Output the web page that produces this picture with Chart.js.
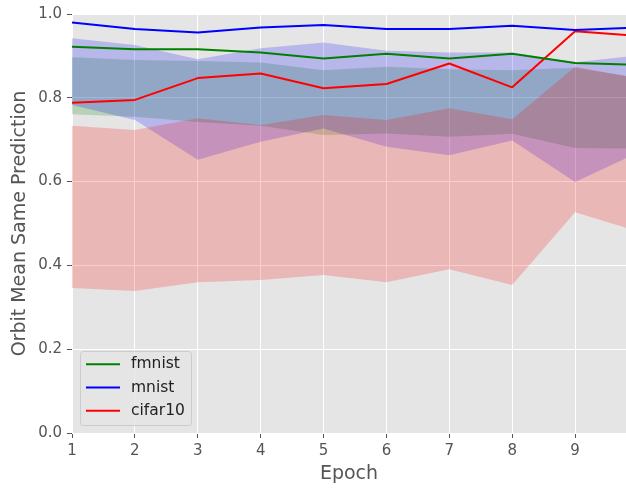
<!DOCTYPE html>
<html>
<head>
<meta charset="utf-8">
<script src="https://cdn.jsdelivr.net/npm/chart.js@4.4.1/dist/chart.umd.min.js"></script>
<style>
  html, body { margin: 0; padding: 0; background: #ffffff; }
  #wrap { width: 626px; height: 489px; }
</style>
</head>
<body>
<div id="wrap"><canvas id="c" width="626" height="489"></canvas></div>
<script>
// Epochs and per-dataset mean / band bounds of the orbit "same prediction" rate
const epochs = [1, 2, 3, 4, 5, 6, 7, 8, 9, 10];

const fmnistMean  = [0.922, 0.916, 0.916, 0.908, 0.894, 0.905, 0.894, 0.905, 0.883, 0.879];
const fmnistUpper = [0.897, 0.890, 0.888, 0.884, 0.866, 0.874, 0.868, 0.866, 0.872, 0.847];
const fmnistLower = [0.761, 0.755, 0.742, 0.733, 0.711, 0.715, 0.707, 0.714, 0.680, 0.679];

const mnistMean  = [0.980, 0.964, 0.956, 0.968, 0.974, 0.964, 0.964, 0.972, 0.962, 0.968];
const mnistUpper = [0.942, 0.926, 0.892, 0.918, 0.932, 0.912, 0.908, 0.908, 0.885, 0.901];
const mnistLower = [0.783, 0.747, 0.652, 0.695, 0.727, 0.683, 0.663, 0.698, 0.599, 0.669];

const cifarMean  = [0.788, 0.795, 0.847, 0.858, 0.823, 0.833, 0.882, 0.825, 0.959, 0.948];
const cifarUpper = [0.733, 0.723, 0.751, 0.735, 0.759, 0.747, 0.775, 0.749, 0.874, 0.847];
const cifarLower = [0.346, 0.339, 0.360, 0.365, 0.377, 0.360, 0.391, 0.353, 0.527, 0.481];

const yTicks = [0, 0.2, 0.4, 0.6, 0.8, 1.0];
const xTicks = [1, 2, 3, 4, 5, 6, 7, 8, 9];

const pts = ys => epochs.map((e, i) => ({ x: e, y: ys[i] }));

const TEXT = '#555555';
const FONT = "'DejaVu Sans', sans-serif";

function band(label, upper, lower, rgb, order) {
  return [
    { label: label + ' upper', data: pts(upper), borderWidth: 0, pointRadius: 0,
      fill: '+1', backgroundColor: `rgba(${rgb},0.2)`, order, isBand: true },
    { label: label + ' lower', data: pts(lower), borderWidth: 0, pointRadius: 0,
      fill: false, order, isBand: true }
  ];
}

function line(label, ys, color) {
  return { label, data: pts(ys), borderColor: color, borderWidth: 2, pointRadius: 0,
           fill: false, order: 0, tension: 0, borderJoinStyle: 'round', borderCapStyle: 'butt' };
}

const datasets = [
  ...band('fmnist', fmnistUpper, fmnistLower, '0,128,0', 3),
  ...band('mnist', mnistUpper, mnistLower, '0,0,255', 2),
  ...band('cifar10', cifarUpper, cifarLower, '255,0,0', 1),
  line('fmnist', fmnistMean, '#008000'),
  line('mnist', mnistMean, '#0000ff'),
  line('cifar10', cifarMean, '#ff0000')
];

// gray panel behind the grid
const panelBg = {
  id: 'panelBg',
  beforeDraw(chart) {
    const { ctx, chartArea: a } = chart;
    ctx.save();
    ctx.fillStyle = '#e5e5e5';
    ctx.fillRect(a.left, a.top, a.right - a.left, a.bottom - a.top);
    ctx.restore();
  }
};

// boxed legend in the lower-left corner of the panel
const cornerLegend = {
  id: 'cornerLegend',
  afterDatasetsDraw(chart) {
    const { ctx, chartArea: a } = chart;
    const items = chart.data.datasets.filter(d => !d.isBand);
    const x = a.left + 8.5, y = a.bottom - 81.5, w = 111, h = 74, r = 3;
    ctx.save();
    ctx.beginPath();
    ctx.roundRect(x, y, w, h, r);
    ctx.fillStyle = 'rgba(229,229,229,0.8)';
    ctx.fill();
    ctx.strokeStyle = '#cccccc';
    ctx.lineWidth = 1;
    ctx.stroke();
    ctx.font = `15.5px ${FONT}`;
    ctx.textBaseline = 'middle';
    items.forEach((d, i) => {
      const cy = y + 12.8 + i * 23.2;
      ctx.beginPath();
      ctx.moveTo(x + 5.5, cy);
      ctx.lineTo(x + 39.5, cy);
      ctx.strokeStyle = d.borderColor;
      ctx.lineWidth = 2;
      ctx.stroke();
      ctx.fillStyle = '#222222';
      ctx.fillText(d.label, x + 50.5, cy);
    });
    ctx.restore();
  }
};

new Chart(document.getElementById('c'), {
  type: 'line',
  data: { datasets },
  plugins: [panelBg, cornerLegend],
  options: {
    responsive: false,
    animation: false,
    devicePixelRatio: 1,
    layout: { padding: { top: 14, left: 0, right: 0, bottom: 0 } },
    plugins: {
      legend: { display: false },
      tooltip: { enabled: false },
      filler: { propagate: false }
    },
    scales: {
      x: {
        type: 'linear', min: 1, max: 9.81,
        afterFit: s => { s.height = 56; },
        afterBuildTicks: s => { s.ticks = xTicks.map(v => ({ value: v })); },
        ticks: { color: TEXT, font: { family: FONT, size: 15 }, padding: 4,
                 callback: v => String(v) },
        grid: { color: '#ffffff', lineWidth: 1, tickColor: TEXT, tickLength: 5 },
        border: { display: false },
        title: { display: true, text: 'Epoch', color: TEXT,
                 font: { family: FONT, size: 19, lineHeight: 1.2 },
                 padding: { top: 0, bottom: 4 } }
      },
      y: {
        type: 'linear', min: 0, max: 1,
        afterFit: s => { s.width = 72; },
        afterBuildTicks: s => { s.ticks = yTicks.map(v => ({ value: v })); },
        ticks: { color: TEXT, font: { family: FONT, size: 15 }, padding: 5,
                 callback: v => Number(v).toFixed(1) },
        grid: { color: '#ffffff', lineWidth: 1, tickColor: TEXT, tickLength: 5 },
        border: { display: false },
        title: { display: true, text: 'Orbit Mean Same Prediction', color: TEXT,
                 font: { family: FONT, size: 19, lineHeight: 1.2 },
                 padding: { top: 9, bottom: 0 } }
      }
    }
  }
});
</script>
</body>
</html>
